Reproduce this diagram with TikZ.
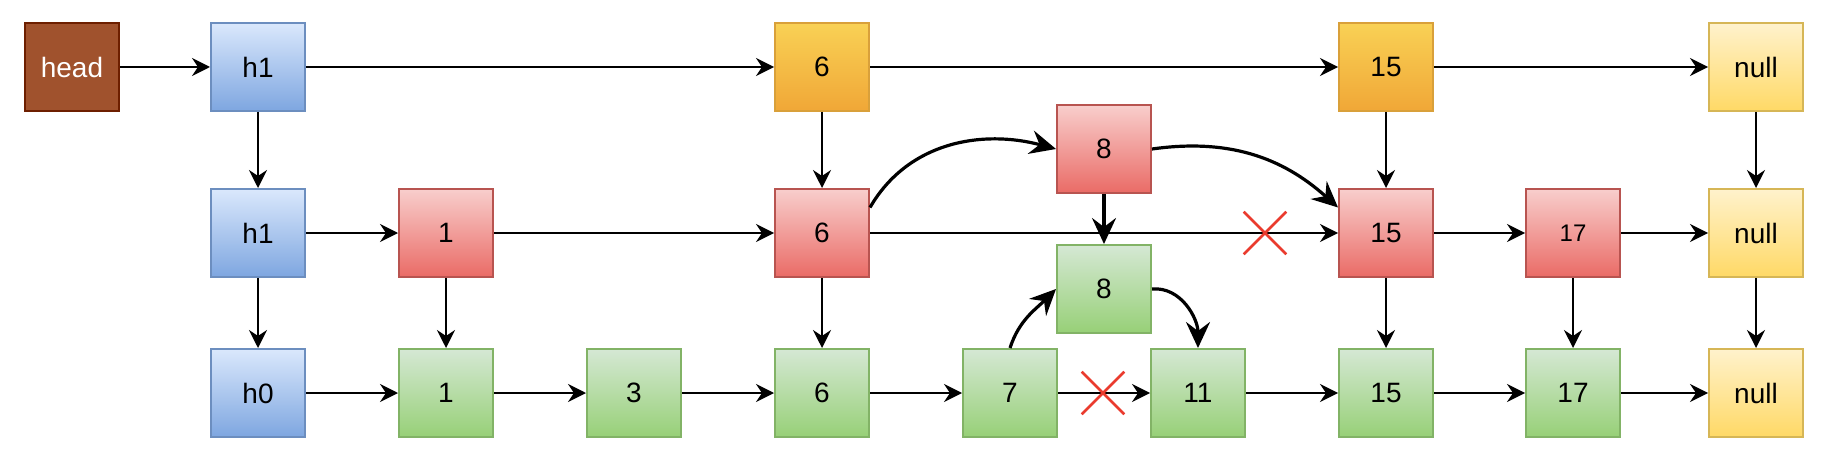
\documentclass[tikz,border=0pt]{standalone}
\usepackage{fontspec}
\setmainfont{Liberation Sans}
\usetikzlibrary{arrows.meta,shapes.misc}
\definecolor{headfill}{HTML}{A0522D}
\definecolor{headline}{HTML}{6D1F00}
\definecolor{blueA}{HTML}{DAE8FC}
\definecolor{blueB}{HTML}{7EA6E0}
\definecolor{blueline}{HTML}{6C8EBF}
\definecolor{orangeA}{HTML}{F9D155}
\definecolor{orangeB}{HTML}{F0A737}
\definecolor{orangeline}{HTML}{D9A03A}
\definecolor{redA}{HTML}{F8CECC}
\definecolor{redB}{HTML}{EA6B66}
\definecolor{redline}{HTML}{B85450}
\definecolor{greenA}{HTML}{D5E8D4}
\definecolor{greenB}{HTML}{97D077}
\definecolor{greenline}{HTML}{82B366}
\definecolor{yellowA}{HTML}{FFF2CC}
\definecolor{yellowB}{HTML}{FFD966}
\definecolor{yellowline}{HTML}{D6B656}
\definecolor{cutred}{HTML}{EA3B2E}
\begin{document}
\begin{tikzpicture}[x=0.5pt,y=-0.5pt]
    \tikzstyle{box} = [draw, line width=1pt, minimum width=47pt, minimum height=44pt, inner sep=0pt, font=\fontsize{14}{17}\selectfont]
    \tikzstyle{headbox} = [box, fill=headfill, draw=headline, text=white]
    \tikzstyle{hbox} = [box, top color=blueA, bottom color=blueB, draw=blueline]
    \tikzstyle{top} = [box, top color=orangeA, bottom color=orangeB, draw=orangeline]
    \tikzstyle{mid} = [box, top color=redA, bottom color=redB, draw=redline]
    \tikzstyle{low} = [box, top color=greenA, bottom color=greenB, draw=greenline]
    \tikzstyle{nil} = [box, top color=yellowA, bottom color=yellowB, draw=yellowline]
    \tikzstyle{cut} = [cross out, draw=cutred, line width=1.3pt, minimum width=20pt, minimum height=20pt, inner sep=0pt]
    \tikzstyle{nxt} = [-{Stealth[length=9pt,width=9pt,inset=3pt]}, line width=1pt]
    \tikzstyle{ins} = [-{Stealth[length=13pt,width=12pt,inset=4.5pt]}, line width=1.6pt]
        \useasboundingbox (0,0) rectangle (1830,460);
        % level 2
        \node[headbox] (head) at (72,67) {head};
        \node[hbox,xshift=93pt] (h2) at (head) {h1};
        \node[top,xshift=282pt] (t6) at (h2) {6};
        \node[top,xshift=282pt] (t15) at (t6) {15};
        \node[nil,xshift=185pt] (n2) at (t15) {null};
        \draw[nxt] (head) -- (h2);
        \draw[nxt] (h2) -- (t6);
        \draw[nxt] (t6) -- (t15);
        \draw[nxt] (t15) -- (n2);
        % level 1
        \node[hbox,yshift=-83pt] (h1) at (h2) {h1};
        \node[mid,xshift=94pt] (m1) at (h1) {1};
        \node[mid,yshift=-83pt] (m6) at (t6) {6};
        \node[mid,xshift=141pt,yshift=42pt] (m8) at (m6) {8};
        \node[mid,yshift=-83pt] (m15) at (t15) {15};
        \node[mid,xshift=93.5pt,font=\fontsize{12}{14}\selectfont] (m17) at (m15) {17};
        \node[nil,yshift=-83pt] (n1) at (n2) {null};
        \draw[nxt] (h2) -- (h1);
        \draw[nxt] (t6) -- (m6);
        \draw[nxt] (t15) -- (m15);
        \draw[nxt] (n2) -- (n1);
        \draw[nxt] (h1) -- (m1);
        \draw[nxt] (m1) -- (m6);
        \draw[nxt] (m6) -- (m15);
        \draw[nxt] (m15) -- (m17);
        \draw[nxt] (m17) -- (n1);
        % level 0
        \node[hbox,yshift=-80pt] (h0) at (h1) {h0};
        \node[low,yshift=-80pt] (l1) at (m1) {1};
        \node[low,xshift=94pt] (l3) at (l1) {3};
        \node[low,yshift=-80pt] (l6) at (m6) {6};
        \node[low,xshift=94pt] (l7) at (l6) {7};
        \node[low,yshift=-70pt] (l8) at (m8) {8};
        \node[low,xshift=94pt] (l11) at (l7) {11};
        \node[low,yshift=-80pt] (l15) at (m15) {15};
        \node[low,yshift=-80pt] (l17) at (m17) {17};
        \node[nil,yshift=-80pt] (n0) at (n1) {null};
        \draw[nxt] (h1) -- (h0);
        \draw[nxt] (m1) -- (l1);
        \draw[nxt] (m6) -- (l6);
        \draw[nxt] (m15) -- (l15);
        \draw[nxt] (m17) -- (l17);
        \draw[nxt] (n1) -- (n0);
        \draw[nxt] (h0) -- (l1);
        \draw[nxt] (l1) -- (l3);
        \draw[nxt] (l3) -- (l6);
        \draw[nxt] (l6) -- (l7);
        \draw[nxt] (l7) -- (l11);
        \draw[nxt] (l11) -- (l15);
        \draw[nxt] (l15) -- (l17);
        \draw[nxt] (l17) -- (n0);
        %%% insert 8
        \draw[ins] (m6.28) to[out=60,in=165] (m8.west);
        \draw[ins] (m8.east) to[out=8,in=138] (m15.152);
        \draw[ins] (m8) -- (l8);
        \draw[ins] (l7.north) to[out=72,in=225] (l8.west);
        \draw[ins] (l8.east) to[out=5,in=90] (l11.north);
        % cut links
        \node[cut,xshift=-60.5pt] (cut1) at (m15) {};
        \node[cut,xshift=-47.5pt] (cut0) at (l11) {};
    \end{tikzpicture}
\end{document}
